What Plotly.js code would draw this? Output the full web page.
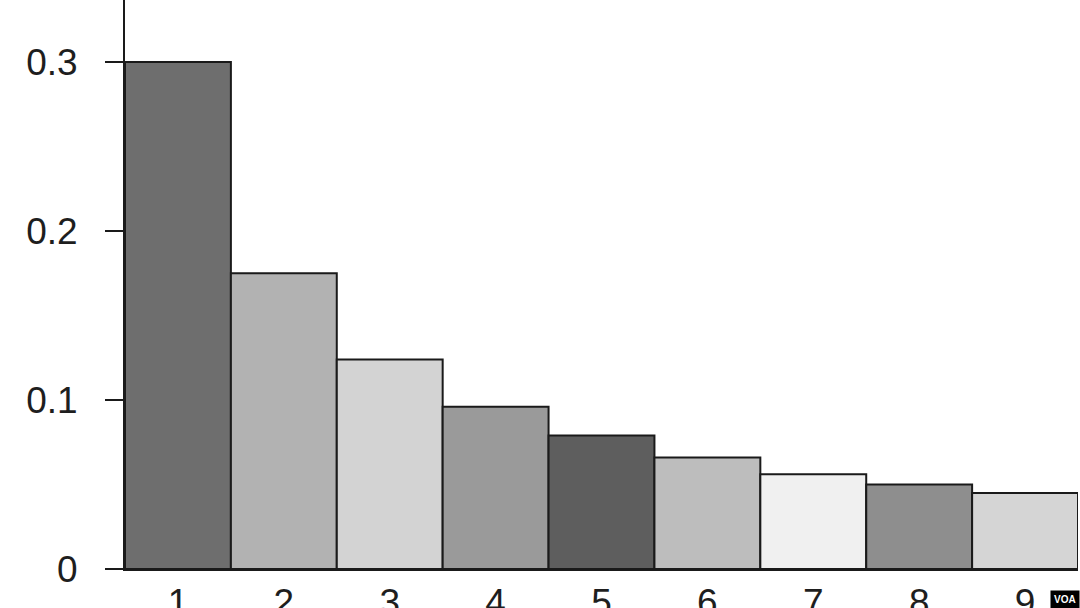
<!DOCTYPE html>
<html>
<head>
<meta charset="utf-8">
<script src="https://cdn.plot.ly/plotly-3.0.1.min.js"></script>
<style>html,body{margin:0;padding:0;background:#fff;}#chart{width:1080px;height:608px;}</style>
</head>
<body>
<div id="chart"></div>
<script>
var digits = ['1','2','3','4','5','6','7','8','9'];
var proportions = [0.300, 0.175, 0.124, 0.096, 0.079, 0.066, 0.056, 0.050, 0.045];
var barColors = ['#6e6e6e','#b2b2b2','#d3d3d3','#9a9a9a','#5e5e5e','#bdbdbd','#f0f0f0','#8e8e8e','#d5d5d5'];
var yTickVals = [0, 0.1, 0.2, 0.3];
var yTickText = ['0', '0.1', '0.2', '0.3'];

var trace = {
  type: 'bar',
  x: digits,
  y: proportions,
  marker: {color: barColors, line: {color: '#1a1a1a', width: 2}},
  hoverinfo: 'none'
};

var layout = {
  width: 1080, height: 608,
  margin: {l: 125, r: 2, t: 0, b: 39, pad: 0},
  paper_bgcolor: '#ffffff', plot_bgcolor: '#ffffff',
  bargap: 0,
  showlegend: false,
  font: {family: 'Liberation Sans, Arial, sans-serif', color: '#1e1e1e'},
  xaxis: {
    type: 'category',
    range: [-0.5, 8.5],
    showgrid: false, zeroline: false,
    showline: true, linecolor: '#1a1a1a', linewidth: 2,
    ticks: '', ticklen: 0,
    tickfont: {size: 37, color: '#1e1e1e'}
  },
  yaxis: {
    range: [0, 0.3367],
    showgrid: false, zeroline: false,
    showline: true, linecolor: '#1a1a1a', linewidth: 2,
    ticks: 'outside', ticklen: 18, tickwidth: 2, tickcolor: '#1a1a1a',
    ticklabelstandoff: 20,
    tickvals: yTickVals, ticktext: yTickText,
    tickfont: {size: 37, color: '#1e1e1e'}
  },
  annotations: [{
    xref: 'paper', yref: 'paper', x: 1, y: 0, xanchor: 'right', yanchor: 'top',
    yshift: -21, xshift: 2,
    text: '<b>VOA</b>', showarrow: false,
    bgcolor: '#000000', font: {size: 10, color: '#ffffff', family: 'Liberation Sans, Arial, sans-serif'},
    borderpad: 3
  }]
};

Plotly.newPlot('chart', [trace], layout, {displayModeBar: false, staticPlot: true});
</script>
</body>
</html>
